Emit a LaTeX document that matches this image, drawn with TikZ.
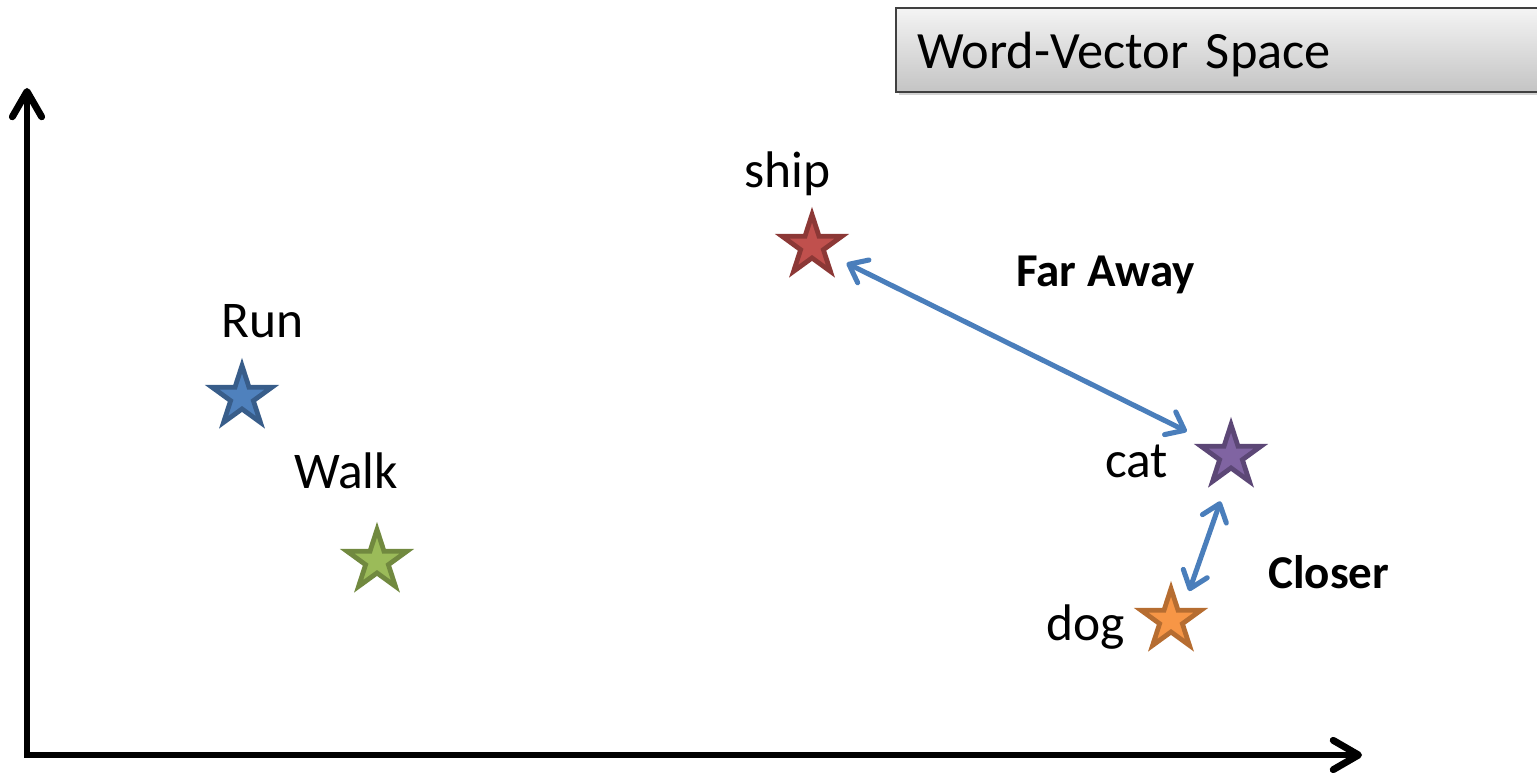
\documentclass[tikz,border=0pt]{standalone}
\usepackage{fontspec}
\setmainfont{Carlito}
\usetikzlibrary{arrows.meta,shapes.geometric,shadows}

% Office-style theme colours
\definecolor{runfill}{HTML}{4F81BD}
\definecolor{runline}{HTML}{385D8A}
\definecolor{shipfill}{HTML}{C0504D}
\definecolor{shipline}{HTML}{8C3836}
\definecolor{walkfill}{HTML}{9BBB59}
\definecolor{walkline}{HTML}{71893F}
\definecolor{catfill}{HTML}{8064A2}
\definecolor{catline}{HTML}{5C4776}
\definecolor{dogfill}{HTML}{F79646}
\definecolor{dogline}{HTML}{B66D31}
\definecolor{linkblue}{HTML}{4A7EBB}
\definecolor{boxtop}{HTML}{F4F4F4}
\definecolor{boxbottom}{HTML}{C4C4C4}
\definecolor{boxline}{HTML}{404040}

\begin{document}
\begin{tikzpicture}[x=0.75pt,y=-0.75pt,
  wordstar/.style 2 args={star, star points=5, star point ratio=2.618,
    minimum size=47pt, inner sep=0pt, outer sep=0pt, line width=3.6pt,
    line join=miter, draw=#1, fill=#2},
  wordlabel/.style={anchor=base west, inner sep=0pt,
    font=\fontsize{38.6}{46}\selectfont},
  notelabel/.style={anchor=base west, inner sep=0pt,
    font=\fontsize{35.3}{42}\selectfont\bfseries},
  axis/.style={line width=5.2pt,
    {Straight Barb[length=19pt,width=22pt,round]}-{Straight Barb[length=19pt,width=22pt,round]}},
  gaplink/.style={draw=linkblue, line width=3.8pt,
    {Straight Barb[length=12pt,width=19pt,round]}-{Straight Barb[length=12pt,width=19pt,round]}},
  titlebox/.style={anchor=base west, draw=boxline, line width=1.5pt,
    top color=boxtop, bottom color=boxbottom,
    drop shadow={shadow xshift=2.5pt, shadow yshift=-2.5pt, opacity=0.35},
    inner xsep=15.75pt, inner ysep=0pt, text height=45.75pt, text depth=17.25pt,
    text width=480pt, align=left, font=\fontsize{39.3}{47}\selectfont}
]
\clip (0,0) rectangle (1537,773);

% title panel
\node[titlebox] (title) at (895,69) {Word-Vector Space};

% axes
\coordinate (ytop) at (27,88);
\coordinate (origin) at (27,755);
\coordinate (xend) at (1362,755);
\draw[axis] (ytop) -- (origin) -- (xend);

% word points
\node[wordstar={runline}{runfill}] (run) at (242,397) {};
\node[wordstar={walkline}{walkfill}] (walk) at (377,561) {};
\node[wordstar={shipline}{shipfill}] (ship) at (812,246) {};
\node[wordstar={catline}{catfill}] (cat) at (1231,456) {};
\node[wordstar={dogline}{dogfill}] (dog) at (1171,620) {};

% word labels
\node[wordlabel] (runtext) at (221,338) {Run};
\node[wordlabel] (walktext) at (294,488) {Walk};
\node[wordlabel] (shiptext) at (744,188) {ship};
\node[wordlabel] (cattext) at (1105,477) {cat};
\node[wordlabel] (dogtext) at (1046,640) {dog};

% distances
\draw[gaplink, shorten <=29pt, shorten >=37pt] (ship.center) -- ([yshift=2pt]cat.center);
\draw[gaplink, shorten <=36pt, shorten >=23pt] ([xshift=4pt]cat.center) -- ([xshift=6pt]dog.center);
\node[notelabel] (far) at (1016,287) {Far Away};
\node[notelabel] (closer) at (1268,588) {Closer};
\end{tikzpicture}
\end{document}
